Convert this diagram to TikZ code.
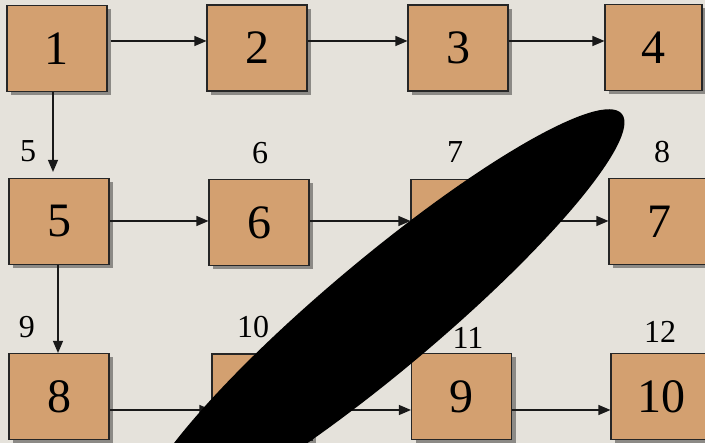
\documentclass[tikz,border=0pt]{standalone}
\usepackage{fontspec}
\setmainfont{Liberation Serif}
\usetikzlibrary{arrows.meta,shadows}
\definecolor{bgc}{RGB}{229,226,219}
\definecolor{boxc}{RGB}{211,160,112}
\definecolor{shc}{RGB}{140,138,134}
\begin{document}
\begin{tikzpicture}[x=1pt,y=-1pt,
  blk/.style={draw=black!85,line width=1.1pt,fill=boxc,minimum width=100pt,minimum height=86pt,inner sep=0pt,
    font=\fontsize{48}{48}\selectfont,
    drop shadow={shadow xshift=4pt,shadow yshift=-4pt,fill=shc,opacity=1}},
  lbl/.style={font=\fontsize{32}{32}\selectfont,inner sep=0pt},
  arr/.style={draw=black!90,line width=1.2pt,-{Triangle[length=12pt,width=10pt]}}]
\fill[bgc] (0,0) rectangle (705,443);
\useasboundingbox (0,0) rectangle (705,443);
% row 1
\node[blk] (b1) at (57,48.5) {1};
\node[blk] (b2) at (257,48) {2};
\node[blk] (b3) at (458,48) {3};
\node[blk,minimum width=97pt] (b4) at (653.5,47.5) {4};
% row 2
\node[blk] (b5) at (59,221.5) {5};
\node[blk] (b6) at (259,222.5) {6};
\node[blk] (b7) at (461,222.5) {7};
\node[blk] (b7b) at (659,221.5) {7};
% row 3
\node[blk] (b8) at (59,396.5) {8};
\node[blk] (b10) at (262,397) {10};
\node[blk] (b9) at (461.5,396.5) {9};
\node[blk] (b10b) at (661,396.5) {10};
% labels
\node[lbl] (l5) at (28,151) {5};
\node[lbl] (l6) at (260,153) {6};
\node[lbl] (l7) at (455,152) {7};
\node[lbl] (l8) at (662,152) {8};
\node[lbl] (l9) at (27,327) {9};
\node[lbl] (l10) at (253,327) {10};
\node[lbl] (l11) at (468,338) {11};
\node[lbl] (l12) at (660,332) {12};
% arrows
\draw[arr] ([xshift=3pt]b1.east |- 0,41) -- (b2.west |- 0,41);
\draw[arr] (b2.east |- 0,41) -- (b3.west |- 0,41);
\draw[arr] (b3.east |- 0,41) -- (b4.west |- 0,41);
\draw[arr] (b5.east |- 0,221) -- (b6.west |- 0,221);
\draw[arr] (b6.east |- 0,221) -- (b7.west |- 0,221);
\draw[arr] (b7.east |- 0,221) -- (b7b.west |- 0,221);
\draw[arr] (b8.east |- 0,410) -- (b10.west |- 0,410);
\draw[arr] (b10.east |- 0,410) -- (b9.west |- 0,410);
\draw[arr] (b9.east |- 0,410) -- (b10b.west |- 0,410);
\draw[arr] (b1.south -| 53,0) -- ([yshift=6pt]b5.north -| 53,0);
\draw[arr] (b5.south -| 58,0) -- (b8.north -| 58,0);
% blot
\fill[black,rotate around={40:(382,315)}] (382,315) ellipse [x radius=313,y radius=56];
\end{tikzpicture}
\end{document}
